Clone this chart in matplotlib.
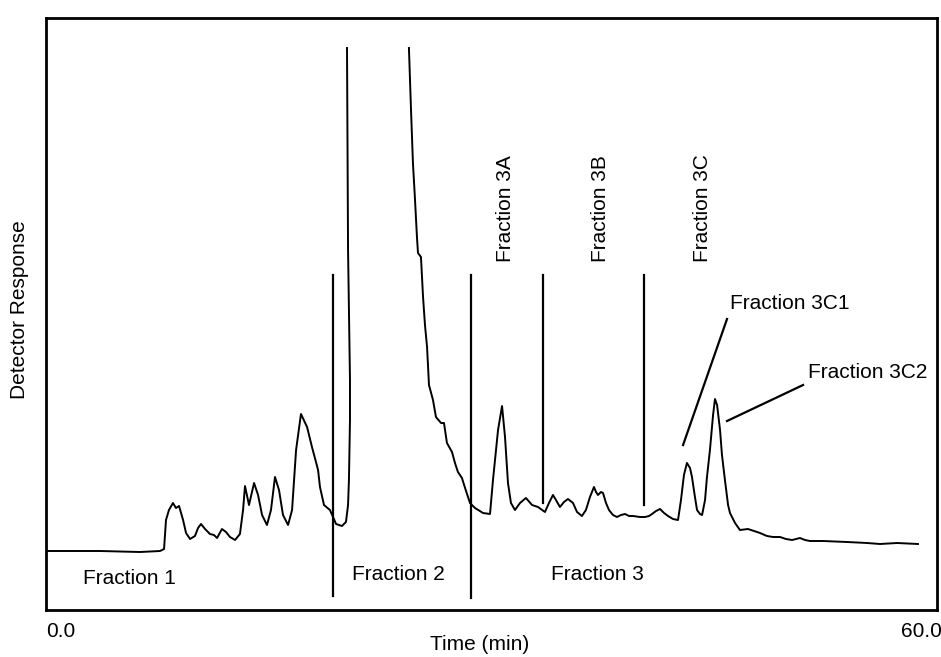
import numpy as np
import matplotlib
matplotlib.use("Agg")
import matplotlib.pyplot as plt

plt.rcParams['font.family'] = ['Liberation Sans', 'DejaVu Sans']

# Chromatogram trace (time in min, detector response in arbitrary units)
time_a = [0.00, 3.64, 6.33, 7.68, 7.95, 8.08, 8.28, 8.55, 8.75, 8.96, 9.23, 9.43, 9.70,
          10.03, 10.24, 10.44, 10.71, 11.04, 11.31, 11.52, 11.85, 12.12, 12.39, 12.73,
          13.06, 13.27, 13.40, 13.67, 14.01, 14.28, 14.55, 14.88, 15.15, 15.42, 15.69,
          15.96, 16.30, 16.57, 16.84, 17.17, 17.58, 17.91, 18.18, 18.32, 18.45, 18.72,
          19.12, 19.33, 19.53, 19.93, 20.20, 20.34, 20.40, 20.47, 20.47, 20.34, 20.27]
resp_a = [59, 59, 58, 59, 61, 90, 100, 107, 102, 104, 90, 77, 71,
          74, 82, 86, 81, 76, 75, 72, 81, 78, 73, 70,
          76, 100, 124, 105, 127, 115, 95, 85, 100, 133, 120,
          95, 85, 100, 160, 196, 183, 163, 148, 140, 123, 105,
          100, 93, 86, 84, 88, 105, 130, 190, 230, 360, 562]

time_b = [24.44, 24.58, 24.71, 24.85, 24.98, 25.05, 25.25, 25.39, 25.52, 25.66, 25.79,
          26.06, 26.26, 26.60, 26.80, 27.00, 27.34, 27.54, 27.74, 28.01, 28.22, 28.55,
          28.89, 29.43, 29.90, 30.10, 30.44, 30.71, 30.91, 31.11, 31.31, 31.58, 31.92,
          32.32, 32.73, 33.13, 33.60, 33.87, 34.14, 34.34, 34.61, 34.88, 35.15, 35.49,
          35.76, 36.09, 36.36, 36.63, 36.90, 37.04, 37.17, 37.37, 37.51, 37.71, 37.91,
          38.18, 38.45, 38.72, 38.99, 39.26, 39.53, 40.00, 40.34, 40.61, 40.81, 41.08,
          41.35, 41.62, 41.89, 42.22, 42.56, 42.76, 42.96, 43.16, 43.37, 43.50, 43.70,
          43.84, 44.04, 44.18, 44.38, 44.51, 44.71, 44.92, 45.05, 45.19, 45.39, 45.52,
          45.72, 45.93, 46.06, 46.40, 46.73, 47.27, 47.68, 48.08, 48.55, 48.96, 49.43,
          49.83, 50.24, 50.51, 50.77, 51.11, 51.45, 52.32, 53.94, 55.29, 56.16, 57.31,
          58.72]
resp_b = [562, 500, 447, 410, 373, 357, 353, 313, 285, 263, 225,
          210, 193, 187, 187, 167, 158, 147, 138, 132, 122, 107,
          102, 97, 96, 130, 180, 204, 173, 127, 107, 100, 107,
          112, 105, 103, 98, 107, 115, 110, 103, 108, 111, 107,
          98, 94, 100, 113, 123, 118, 115, 118, 117, 107, 100,
          95, 93, 95, 96, 94, 94, 93, 93, 94, 96, 99,
          101, 97, 94, 91, 90, 110, 135, 147, 142, 133, 113,
          100, 96, 95, 110, 133, 160, 195, 211, 205, 180, 155,
          130, 105, 97, 87, 80, 81, 79, 77, 74, 73, 73,
          71, 70, 71, 72, 70, 69, 69, 68, 67, 66, 67,
          66]

# Fraction cut points (min) and label data
cut_times = [19.33, 28.62, 33.47, 40.27]
cut_bottoms = [14, 12, 107, 105]
cut_top = 335
bottom_labels = ["Fraction 1", "Fraction 2", "Fraction 3"]
bottom_label_t = [2.49, 20.61, 34.0]
bottom_label_r = [32, 35, 35]
sub_labels = ["Fraction 3A", "Fraction 3B", "Fraction 3C"]
sub_label_t = [30.91, 37.31, 44.24]
sub_label_r = 348
peak_labels = ["Fraction 3C1", "Fraction 3C2"]
peak_label_t = [46.06, 51.31]
peak_label_r = [307, 237]
leader_t = [(42.90, 45.86), (45.86, 50.98)]
leader_r = [(165, 291), (189, 225)]

fig = plt.figure(figsize=(9.41, 6.57), dpi=100)
ax = fig.add_axes([46/941, 47/657, 891/941, 592/657])
ax.set_xlim(0, 60)
ax.set_ylim(0, 592)

ax.plot(time_a, resp_a, color='black', lw=1.4, solid_joinstyle='round')
ax.plot(time_b, resp_b, color='black', lw=1.4, solid_joinstyle='round')

for t, b in zip(cut_times, cut_bottoms):
    ax.plot([t, t], [b, cut_top], color='black', lw=1.6)

fs = 15
for lab, t, r in zip(bottom_labels, bottom_label_t, bottom_label_r):
    ax.text(t, r, lab, fontsize=fs, ha='left', va='center')
for lab, t in zip(sub_labels, sub_label_t):
    ax.text(t, sub_label_r, lab, fontsize=fs, rotation=90, ha='center', va='bottom')
for lab, t, r in zip(peak_labels, peak_label_t, peak_label_r):
    ax.text(t, r, lab, fontsize=fs, ha='left', va='center')
for lt, lr in zip(leader_t, leader_r):
    ax.plot(lt, lr, color='black', lw=1.6)

ax.set_xticks([])
ax.set_yticks([])
for s in ax.spines.values():
    s.set_linewidth(2.0)
    s.set_color('black')

ax.text(0.0, -0.02, "0.0", transform=ax.transAxes, fontsize=fs, ha='left', va='top')
ax.text(1.005, -0.02, "60.0", transform=ax.transAxes, fontsize=fs, ha='right', va='top')
fig.text(480/941, 1 - 645/657, "Time (min)", fontsize=fs, ha='center', va='center')
fig.text(20/941, 1 - 310/657, "Detector Response", fontsize=fs, ha='center', va='center', rotation=90)

fig.savefig("out.png", dpi=100)
